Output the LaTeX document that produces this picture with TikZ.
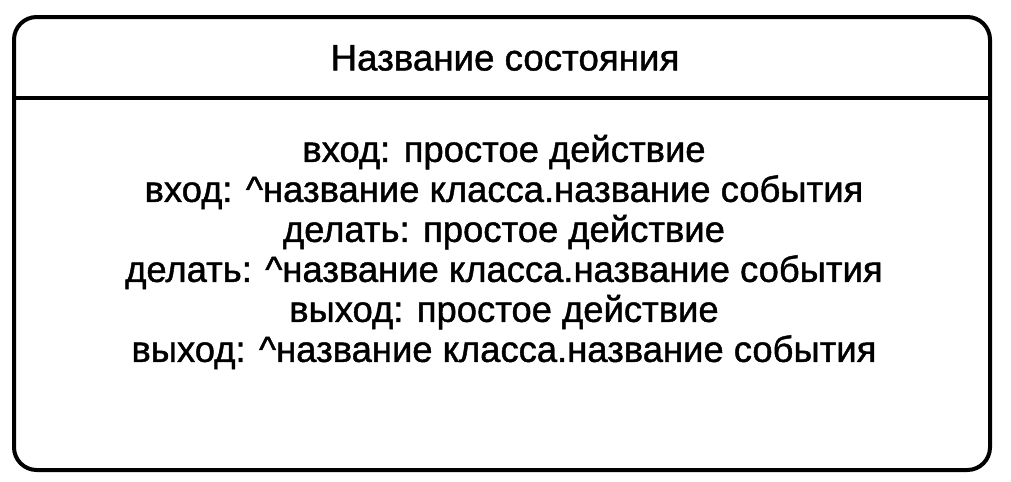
\documentclass[tikz,border=0pt]{standalone}
\usepackage{fontspec}
\setmainfont{Liberation Sans}[FakeBold=1.2]
\begin{document}
\begin{tikzpicture}[x=0.75pt,y=-0.75pt,
  frame/.style={draw=black,line width=3pt,rounded corners=17pt},
  sep/.style={draw=black,line width=2.4pt},
  title/.style={font=\fontsize{27.5pt}{30pt}\selectfont,anchor=center,inner sep=0pt},
  body/.style={font=\fontsize{27.3pt}{30pt}\selectfont,align=center,anchor=center,inner sep=0pt}]
\useasboundingbox (0,0) rectangle (1011,482);
\draw[frame] (14,17) rectangle (990,470);
\coordinate (sl) at (14,98);
\coordinate (sr) at (990,98);
\draw[sep] (sl) -- (sr);
\node[title] (t) at (505,58) {Название состояния};
\node[body] (b) at (504,252) {вход: простое действие\\
вход: \^{}название класса.название события\\
делать: простое действие\\
делать: \^{}название класса.название события\\
выход: простое действие\\
выход: \^{}название класса.название события};
\end{tikzpicture}
\end{document}
